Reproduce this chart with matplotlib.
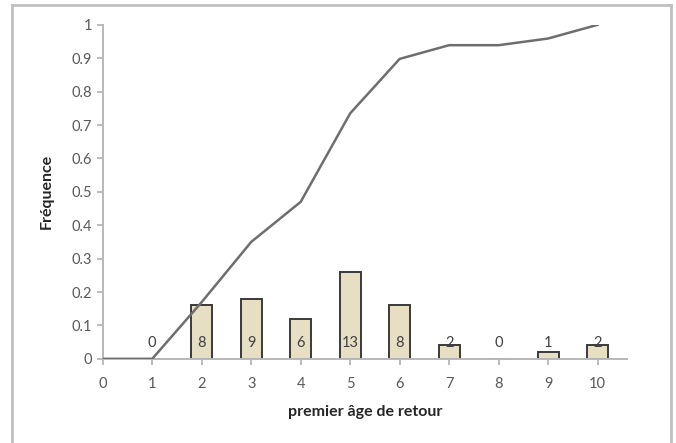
import matplotlib.pyplot as plt
from matplotlib.lines import Line2D

# données
ages = [1, 2, 3, 4, 5, 6, 7, 8, 9, 10]
effectifs = [0, 8, 9, 6, 13, 8, 2, 0, 1, 2]
frequences = [0, 0.16, 0.18, 0.12, 0.26, 0.16, 0.04, 0, 0.02, 0.04]
ages_cumul = [0, 1, 2, 3, 4, 5, 6, 7, 8, 9, 10]
freq_cumul = [0, 0, 0.17, 0.35, 0.47, 0.735, 0.898, 0.939, 0.939, 0.959, 1.0]
yticks = [0, 0.1, 0.2, 0.3, 0.4, 0.5, 0.6, 0.7, 0.8, 0.9, 1]
ytick_labels = ['0', '0.1', '0.2', '0.3', '0.4', '0.5', '0.6', '0.7', '0.8', '0.9', '1']

plt.rcParams['font.family'] = ['Lato', 'DejaVu Sans']

fig = plt.figure(figsize=(6.76, 4.43), dpi=100)
ax = fig.add_axes([0.152, 0.19, 0.776, 0.754])

gris = '#595959'
ax.bar(ages, frequences, width=0.42, color='#e6dfc3', edgecolor='#3a3a3a', linewidth=1.4, zorder=2)
ax.plot(ages_cumul, freq_cumul, color='#6e6e6e', linewidth=1.8, zorder=3)

for a, n in zip(ages, effectifs):
    ax.text(a, 0.048, str(n), ha='center', va='center', fontsize=10.5, color='#404040', zorder=4)

ax.set_xlim(0, 10.6)
ax.set_ylim(0, 1)
ax.set_xticks(range(0, 11))
ax.set_yticks(yticks)
ax.set_yticklabels(ytick_labels)
ax.tick_params(colors='#b0b0b0', labelcolor=gris, labelsize=10.5, length=4, width=1.2)
ax.tick_params(axis='x', pad=9)
ax.spines['top'].set_visible(False)
ax.spines['right'].set_visible(False)
for s in ['left', 'bottom']:
    ax.spines[s].set_color('#b8b8b8')
    ax.spines[s].set_linewidth(1.4)

ax.set_xlabel('premier âge de retour', fontsize=11.5, fontweight='bold', color='#262626', labelpad=10)
ax.set_ylabel('Fréquence', fontsize=11.5, fontweight='bold', color='#262626', labelpad=13)

# cadre gris autour du graphique
for xs, ys in [([0.018, 0.018], [0.0, 0.989]), ([0.018, 0.992], [0.989, 0.989]), ([0.992, 0.992], [0.989, 0.0])]:
    fig.add_artist(Line2D(xs, ys, color='#c0c0c0', linewidth=2, transform=fig.transFigure))

fig.savefig('out.png', dpi=100)
